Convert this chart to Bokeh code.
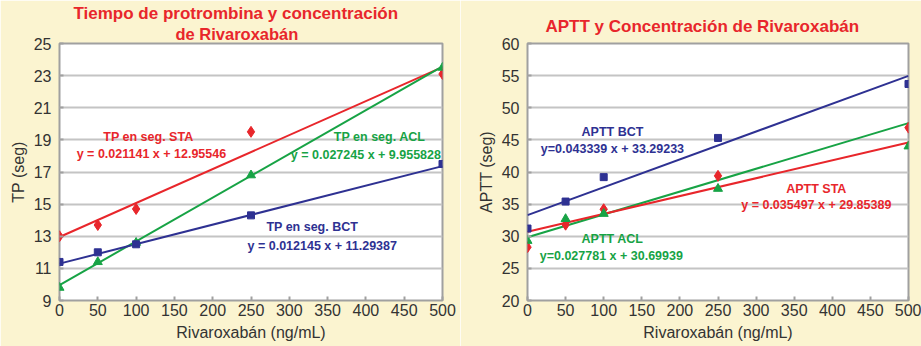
from bokeh.plotting import figure
from bokeh.layouts import row
from bokeh.models import Label, FixedTicker, Range1d, Title
from bokeh.embed import file_html
from bokeh.resources import INLINE

# ---- data ----
conc = [0, 50, 100, 250, 500]

tp_sta = [13.0, 13.7, 14.7, 19.5, 23.1]
tp_acl = [9.8, 11.4, 12.6, 16.8, 23.5]
tp_bct = [11.4, 12.0, 12.5, 14.3, 17.5]

aptt_bct = [31.2, 35.4, 39.2, 45.3, 53.7]
aptt_sta = [28.3, 31.8, 34.2, 39.4, 46.9]
aptt_acl = [29.3, 32.7, 33.5, 37.4, 44.0]

tp_fit = {"STA": (0.021141, 12.95546), "ACL": (0.027245, 9.955828), "BCT": (0.012145, 11.29387)}
aptt_fit = {"BCT": (0.043339, 33.29233), "STA": (0.035497, 29.85389), "ACL": (0.027781, 30.69939)}

x_ticks = [0, 50, 100, 150, 200, 250, 300, 350, 400, 450, 500]
tp_ticks = [9, 11, 13, 15, 17, 19, 21, 23, 25]
aptt_ticks = [20, 25, 30, 35, 40, 45, 50, 55, 60]

RED = "#E8262B"
GREEN = "#17A345"
NAVY = "#2E3192"
BG = "#FBF4D0"
TXT = "#333333"
FONT = "Liberation Sans"

x_fit = [min(conc), max(conc)]


def base(width, left, right, ymin, ymax, yticks, ylabel, titles):
    p = figure(width=width, height=346, output_backend="svg", toolbar_location=None,
               x_range=Range1d(0, 500), y_range=Range1d(ymin, ymax),
               min_border_left=left, min_border_right=right, min_border_top=43,
               min_border_bottom=46, background_fill_color="white",
               border_fill_color=BG, outline_line_color="#A0A0A0", outline_line_width=2)
    for t, size, off, so in titles:
        p.add_layout(Title(text=t, align="left", offset=off, text_color=RED,
                           text_font=FONT, text_font_size=size, text_font_style="bold",
                           standoff=so), "above")
    p.xaxis.ticker = FixedTicker(ticks=x_ticks)
    p.yaxis.ticker = FixedTicker(ticks=yticks)
    for ax in (p.xaxis[0], p.yaxis[0]):
        ax.axis_line_color = None
        ax.major_tick_in = 4
        ax.major_tick_out = 0
        ax.major_tick_line_color = "#A0A0A0"
        ax.major_tick_line_width = 2
        ax.minor_tick_line_color = None
        ax.major_label_text_font = FONT
        ax.major_label_text_font_size = "16px"
        ax.major_label_text_color = TXT
        ax.axis_label_text_font = FONT
        ax.axis_label_text_font_size = "16px"
        ax.axis_label_text_font_style = "normal"
        ax.axis_label_text_color = TXT
    p.xaxis.major_label_standoff = 3
    p.yaxis.major_label_standoff = 8
    p.xaxis.axis_label = "Rivaroxabán (ng/mL)"
    p.yaxis.axis_label = ylabel
    p.xaxis.axis_label_standoff = 5
    p.yaxis.axis_label_standoff = 4
    p.xgrid.grid_line_color = None
    p.ygrid.grid_line_color = "#C4C4C4"
    p.ygrid.grid_line_width = 2
    return p


def lab(p, x, y, text, color, size="12.5px"):
    p.add_layout(Label(x=x, y=y, text=text, text_color=color, text_font=FONT,
                       text_font_size=size, text_font_style="bold",
                       text_align="center", text_baseline="middle"))


# ---- left chart ----
p1 = base(460, 59, 18, 9, 25, tp_ticks, "TP (seg)",
          [("de Rivaroxabán", "16.5px", 116, 1),
           ("Tiempo de protrombina y concentración", "17px", 14, 0)])
for key, col in (("STA", RED), ("ACL", GREEN), ("BCT", NAVY)):
    m, b = tp_fit[key]
    p1.line(x_fit, [m * x + b for x in x_fit], line_color=col, line_width=2)
p1.scatter(conc, tp_sta, marker="diamond", size=11, color=RED)
p1.scatter(conc, tp_acl, marker="triangle", size=9, color=GREEN)
p1.scatter(conc, tp_bct, marker="square", size=7, color=NAVY)

lab(p1, 116, 19.15, "TP en seg. STA", RED)
lab(p1, 120, 18.09, "y = 0.021141 x + 12.95546", RED)
lab(p1, 418, 19.15, "TP en seg. ACL", GREEN)
lab(p1, 400, 18.03, "y = 0.027245 x + 9.955828", GREEN)
lab(p1, 330, 13.6, "TP en seg. BCT", NAVY)
lab(p1, 343, 12.42, "y = 0.012145 x + 11.29387", NAVY)

# ---- right chart ----
p2 = base(461, 67, 13, 20, 60, aptt_ticks, "APTT (seg)",
          [("APTT y Concentración de Rivaroxabán", "17px", 18, 15)])
# fit lines as drawn in the original (STA fit drawn green, ACL fit drawn red)
for key, col in (("BCT", NAVY), ("STA", GREEN), ("ACL", RED)):
    m, b = aptt_fit[key]
    p2.line(x_fit, [m * x + b for x in x_fit], line_color=col, line_width=2)
p2.scatter(conc, aptt_sta, marker="diamond", size=11, color=RED)
p2.scatter(conc, aptt_acl, marker="triangle", size=9, color=GREEN)
p2.scatter(conc, aptt_bct, marker="square", size=7, color=NAVY)

lab(p2, 111.5, 46.3, "APTT BCT", NAVY)
lab(p2, 111.5, 43.65, "y=0.043339 x + 33.29233", NAVY)
lab(p2, 379, 37.3, "APTT STA", RED)
lab(p2, 379, 34.8, "y = 0.035497 x + 29.85389", RED)
lab(p2, 111.5, 29.5, "APTT ACL", GREEN)
lab(p2, 110, 27.0, "y=0.027781 x + 30.69939", GREEN)

layout = row(p1, p2)
open("out.html", "w").write(file_html(layout, INLINE))
